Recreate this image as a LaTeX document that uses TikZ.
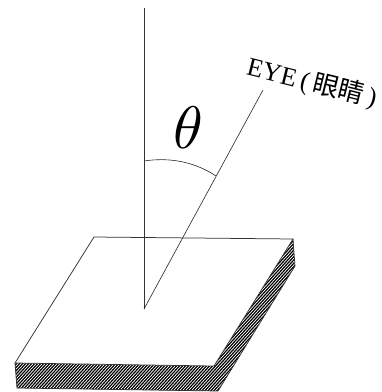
\documentclass[tikz,border=0pt]{standalone}
\usepackage{fontspec}
\setmainfont{Liberation Serif}
\newfontfamily\cjk{Noto Sans CJK SC}
\tikzset{
  edge/.style={draw=black!80,line width=0.75pt},
  thin edge/.style={draw=black!85,line width=0.6pt},
}
\begin{document}
\begin{tikzpicture}[x=1pt,y=-1pt]
\useasboundingbox (0,0) rectangle (382,392);
% named points
\coordinate (P) at (144,309);
\coordinate (Top) at (144,8);
\coordinate (End) at (263,90);
\coordinate (A) at (94,237);
\coordinate (B) at (293,239);
\coordinate (C) at (214,366);
\coordinate (D) at (15,363);
\coordinate (B2) at (295,266);
\coordinate (C2) at (218,391);
\coordinate (D2) at (17,388);
% hatched faces
\begin{scope}
\clip (D) -- (C) -- (B) -- (B2) -- (C2) -- (D2) -- cycle;
\fill[black] (D) -- (C) -- (B) -- (B2) -- (C2) -- (D2) -- cycle;
\foreach \i in {-30,-27,...,240}{
  \draw[white,line width=0.7pt] (\i,400) -- ++(200,-220);
}
\end{scope}
\draw[edge] (D) -- (D2) -- (C2) -- (B2) -- (B);
% top face
\draw[edge,fill=white] (A) -- (B) -- (C) -- (D) -- cycle;
% lines
\draw[edge] (Top) -- (P);
\draw[thin edge] (P) -- (End);
\coordinate (ArcL) at (144,161);
\coordinate (ArcR) at (216,176);
\draw[thin edge] (ArcL) .. controls (170,157) and (195,162) .. (ArcR);
% labels
\node[inner sep=0pt,scale=6] (theta) at (188,128) {$\theta$};
\node[inner sep=0pt,rotate=-14,font=\fontsize{26}{28}\selectfont] (eye) at (312,83) {EYE\,({\cjk\,眼睛\,})};
\end{tikzpicture}
\end{document}
